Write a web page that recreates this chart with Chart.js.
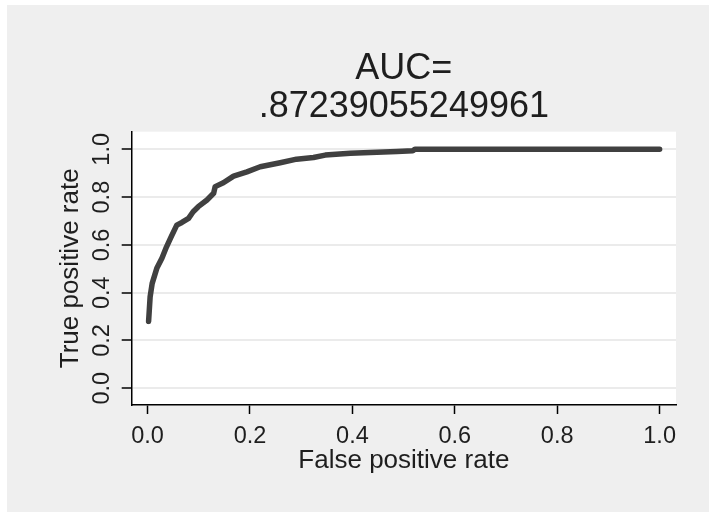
<!DOCTYPE html>
<html>
<head>
<meta charset="utf-8">
<script src="https://cdn.jsdelivr.net/npm/chart.js@4"></script>
<style>
  html, body { margin: 0; padding: 0; background: #ffffff; width: 709px; height: 512px; overflow: hidden; }
  #wrap { position: absolute; left: 7px; top: 5px; width: 702px; height: 507px; background: #efefef; }
  canvas { display: block; }
</style>
</head>
<body>
<div id="wrap"><canvas id="c" width="702" height="507"></canvas></div>
<script>
// ROC curve values
const fpr = [0.002, 0.005, 0.009, 0.018, 0.028, 0.037, 0.046, 0.057, 0.067, 0.080, 0.089, 0.099, 0.116, 0.129, 0.132, 0.148, 0.168, 0.194, 0.220, 0.259, 0.291, 0.324, 0.347, 0.396, 0.435, 0.487, 0.518, 0.522, 1.000];
const tpr = [0.280, 0.383, 0.439, 0.502, 0.544, 0.592, 0.634, 0.683, 0.694, 0.711, 0.739, 0.760, 0.788, 0.816, 0.844, 0.860, 0.888, 0.906, 0.927, 0.944, 0.959, 0.966, 0.976, 0.984, 0.987, 0.991, 0.994, 1.000, 1.000];
const xTicks = [0, 0.2, 0.4, 0.6, 0.8, 1.0];
const yTicks = [0, 0.2, 0.4, 0.6, 0.8, 1.0];
const titleLines = ["AUC=", ".87239055249961"];
const xTitle = "False positive rate";
const yTitle = "True positive rate";

const points = fpr.map((x, i) => ({ x: x, y: tpr[i] }));
const FONT = "'Liberation Sans', Arial, Helvetica, sans-serif";
const TXT = "#1e1e1e";

const plotBg = {
  id: 'plotBg',
  beforeDraw(chart) {
    const a = chart.chartArea, ctx = chart.ctx;
    ctx.save();
    ctx.fillStyle = '#ffffff';
    ctx.fillRect(a.left, a.top, a.right - a.left, a.bottom - a.top);
    ctx.restore();
  }
};

new Chart(document.getElementById('c'), {
  type: 'line',
  data: {
    datasets: [{
      data: points,
      borderColor: '#404040',
      borderWidth: 5.5,
      borderCapStyle: 'round',
      borderJoinStyle: 'round',
      pointRadius: 0,
      tension: 0,
      fill: false
    }]
  },
  options: {
    responsive: false,
    animation: false,
    events: [],
    layout: { padding: { left: 0, right: 33, top: 0, bottom: 32 } },
    plugins: {
      legend: { display: false },
      tooltip: { enabled: false },
      title: {
        display: true,
        fullSize: false,
        text: titleLines,
        color: TXT,
        font: { family: FONT, size: 36, weight: 'normal', lineHeight: 1.044 },
        padding: { top: 45.4, bottom: 6.1 }
      }
    },
    scales: {
      x: {
        type: 'linear',
        min: -0.031,
        max: 1.032,
        afterBuildTicks(s) { s.ticks = xTicks.map(v => ({ value: v })); },
        afterFit(s) { s.height = 75; },
        ticks: {
          color: TXT,
          font: { family: FONT, size: 23.5 },
          padding: 8.6,
          maxRotation: 0,
          autoSkip: false,
          callback: v => Number(v).toFixed(1)
        },
        grid: {
          drawOnChartArea: false,
          drawTicks: true,
          tickLength: 9,
          tickColor: '#000000',
          tickWidth: 1.5
        },
        border: { display: true, color: '#000000', width: 1.5 },
        title: {
          display: true,
          text: xTitle,
          color: TXT,
          font: { family: FONT, size: 26 },
          padding: { top: 0, bottom: 3.6 }
        }
      },
      y: {
        type: 'linear',
        min: -0.07,
        max: 1.074,
        afterBuildTicks(s) { s.ticks = yTicks.map(v => ({ value: v })); },
        afterFit(s) { s.width = 124.7; },
        ticks: {
          color: TXT,
          font: { family: FONT, size: 23.5 },
          padding: 3.3,
          minRotation: 90,
          maxRotation: 90,
          crossAlign: 'center',
          autoSkip: false,
          callback: v => Number(v).toFixed(1)
        },
        grid: {
          drawOnChartArea: true,
          color: '#ebebeb',
          lineWidth: 2,
          drawTicks: true,
          tickLength: 10,
          tickColor: '#000000',
          tickWidth: 1.5
        },
        border: { display: true, color: '#000000', width: 1.5 },
        title: {
          display: true,
          text: yTitle,
          color: TXT,
          font: { family: FONT, size: 26 },
          padding: { top: 48.2, bottom: 0 }
        }
      }
    }
  },
  plugins: [plotBg]
});
</script>
</body>
</html>
